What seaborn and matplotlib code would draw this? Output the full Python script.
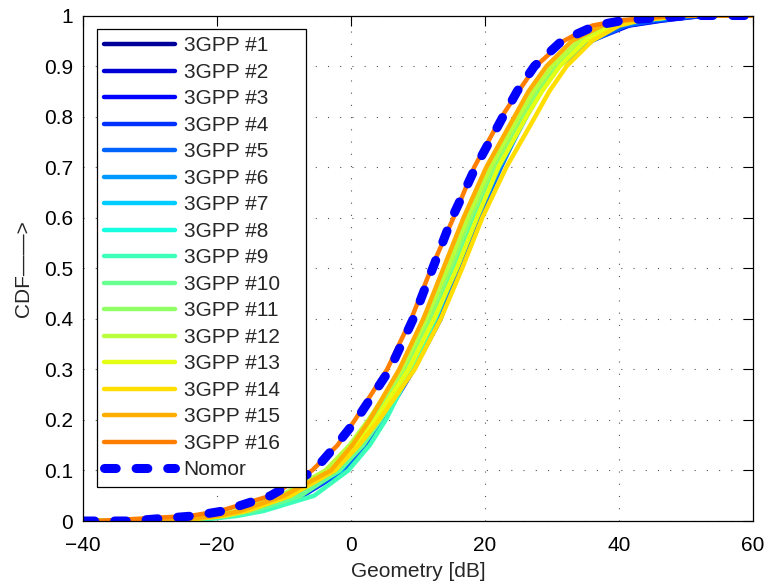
import numpy as np
import pandas as pd
import seaborn as sns
import matplotlib.pyplot as plt

# CDF levels shared by every curve (first/last points pin the flat tails)
cdf_levels = [0, 0, 0.01, 0.02, 0.05, 0.1, 0.15, 0.2, 0.3, 0.4, 0.5, 0.6,
              0.7, 0.8, 0.85, 0.9, 0.95, 0.98, 0.99, 1.0, 1.0]

# geometry [dB] at each CDF level
gpp_1 = [-40, -27, -19.2, -15.2, -8.4, -2.0, 1.2, 3.8, 8.6, 12.4, 15.4, 18.4, 21.8, 25.8, 27.9, 30.6, 35.2, 40.5, 45, 52, 60]
gpp_2 = [-40, -26, -18.8, -14.8, -8.0, -1.8, 1.4, 4.0, 8.8, 12.6, 15.6, 18.4, 21.8, 25.8, 28.0, 30.8, 35.6, 41, 45.5, 52, 60]
gpp_3 = [-40, -25, -18, -14.2, -7.4, -1.4, 1.8, 4.4, 9.0, 13.0, 15.8, 18.6, 21.8, 25.8, 28.0, 30.8, 35.8, 41.5, 46.5, 53, 60]
gpp_4 = [-40, -25, -18, -14, -7.2, -1.0, 2.2, 4.8, 9.4, 13.4, 16.0, 18.6, 22.0, 25.6, 27.8, 30.6, 35.5, 41, 46, 53, 60]
gpp_5 = [-40, -26, -18.5, -14.5, -7.6, -1.2, 2.0, 4.6, 9.2, 13.2, 16.2, 19.0, 22.4, 26.0, 28.2, 31.0, 36, 41, 45, 52, 60]
gpp_6 = [-40, -27, -19, -15, -8.2, -1.8, 1.4, 4.0, 8.8, 12.6, 15.8, 18.8, 22.2, 26.2, 28.4, 31.0, 35.5, 40, 44, 51, 60]
gpp_7 = [-40, -27, -19.5, -15.5, -8.5, -2.2, 1.0, 3.8, 8.2, 11.8, 15.0, 18.0, 21.4, 25.6, 27.8, 30.4, 34.8, 39.5, 43, 50, 60]
gpp_8 = [-40, -26, -18.5, -15, -8, -1.6, 1.6, 4.2, 8.6, 12.0, 15.2, 18.2, 21.6, 25.8, 28.0, 30.6, 34.6, 39, 42.5, 50, 60]
gpp_9 = [-40, -24, -17, -13, -5.5, -0.4, 2.8, 5.2, 9.0, 12.6, 15.6, 18.4, 22.0, 26.0, 28.0, 30.8, 35, 39.5, 43, 50, 60]
gpp_10 = [-40, -26, -18.5, -14.5, -7.5, -1.8, 1.8, 4.4, 8.8, 12.2, 15.2, 18.0, 21.4, 25.6, 27.8, 30.6, 34.5, 39, 42.5, 50, 60]
gpp_11 = [-40, -27, -20, -16, -9.8, -3.2, 0.4, 3.2, 8.0, 11.6, 14.8, 17.8, 21.2, 25.4, 27.6, 30.4, 34.5, 38.5, 42, 49, 60]
gpp_12 = [-40, -29, -20.5, -17, -10.5, -3.8, -0.2, 2.6, 7.6, 11.2, 14.4, 17.4, 20.8, 25.0, 27.2, 30.0, 34, 38, 41.5, 49, 60]
gpp_13 = [-40, -27, -19.5, -16, -9.5, -2.8, 0.8, 3.6, 8.6, 12.4, 15.8, 18.8, 22.0, 26.2, 28.5, 31.2, 35, 39, 42, 49, 60]
gpp_14 = [-40, -26, -19, -15.5, -9, -2.4, 1.2, 4.2, 9.5, 13.4, 16.6, 19.6, 23.2, 27.5, 29.6, 32.2, 36, 40, 43, 50, 60]
gpp_15 = [-40, -28, -20, -16.5, -10, -3.0, 0.2, 2.8, 7.2, 10.8, 13.8, 16.8, 20.2, 24.4, 26.5, 29.2, 33, 37.5, 41, 49, 60]
gpp_16 = [-40, -38, -24, -19.5, -12, -5.8, -2.0, 0.6, 5.4, 9.0, 12.0, 15.3, 18.4, 22.5, 25.0, 27.6, 31.8, 36, 40, 48, 60]
nomor = [-40, -33, -23.5, -19, -12, -5.5, -2.2, 0.8, 5.8, 9.3, 12.2, 15.1, 18.6, 22.7, 24.8, 27.4, 31.5, 36.5, 40.5, 50, 60]

gpp_series = [gpp_1, gpp_2, gpp_3, gpp_4, gpp_5, gpp_6, gpp_7, gpp_8,
              gpp_9, gpp_10, gpp_11, gpp_12, gpp_13, gpp_14, gpp_15, gpp_16]
gpp_labels = [f"3GPP #{i}" for i in range(1, 17)]

x_ticks = [-40, -20, 0, 20, 40, 60]
y_ticks = [0, 0.1, 0.2, 0.3, 0.4, 0.5, 0.6, 0.7, 0.8, 0.9, 1]
y_ticklabels = ["0", "0.1", "0.2", "0.3", "0.4", "0.5", "0.6", "0.7", "0.8", "0.9", "1"]

# long-form table for seaborn
rows = []
for label, xs in zip(gpp_labels, gpp_series):
    for x, y in zip(xs, cdf_levels):
        rows.append({"Geometry": x, "CDF": y, "series": label})
df = pd.DataFrame(rows)
df_nomor = pd.DataFrame({"Geometry": nomor, "CDF": cdf_levels})

# jet colours, dark blue -> orange-red like the MATLAB figure
colors = [plt.cm.jet(0.025 + 0.05 * i) for i in range(16)]

sns.set_style("white")
plt.rcParams['font.family'] = ['Liberation Sans', 'DejaVu Sans']
plt.rcParams['font.size'] = 15

fig = plt.figure(figsize=(7.67, 5.85), dpi=100)
ax = fig.add_axes([0.1082, 0.1094, 0.8735, 0.8641])

sns.lineplot(data=df, x="Geometry", y="CDF", hue="series", hue_order=gpp_labels,
             palette=colors, sort=False, estimator=None, lw=3.2, ax=ax)
sns.lineplot(data=df_nomor, x="Geometry", y="CDF", color="#0000ff", lw=6.5,
             linestyle=(0, (1.3, 2.2)), dash_capstyle="round",
             sort=False, estimator=None, label="Nomor", ax=ax)

ax.set_xlim(-40, 60)
ax.set_ylim(0, 1)
ax.set_xticks(x_ticks)
ax.set_yticks(y_ticks)
ax.set_yticklabels(y_ticklabels)
ax.set_xlabel("Geometry [dB]", fontsize=15, labelpad=5)
ax.set_ylabel("CDF\u2014\u2014>", fontsize=15, labelpad=8)

ax.grid(True, color="#555555", linestyle=(0, (1, 10)), lw=0.8)
ax.tick_params(direction="in", length=7, width=0.8, top=True, right=True,
               labelsize=15, colors="black")
ax.tick_params(axis="x", pad=11)
ax.tick_params(axis="y", pad=7)
for s in ax.spines.values():
    s.set_color("black")
    s.set_linewidth(0.9)

handles, labels = ax.get_legend_handles_labels()
leg = ax.legend(handles, labels, loc="upper left", fontsize=15, frameon=True,
                fancybox=False, framealpha=1, edgecolor="black",
                bbox_to_anchor=(0.021, 0.0, 0.312, 0.973), mode="expand",
                handlelength=3.4, handletextpad=0.4, labelspacing=0.36,
                borderpad=0.35, borderaxespad=0.0)
leg.get_frame().set_linewidth(0.9)

plt.savefig("out.png", dpi=100)
